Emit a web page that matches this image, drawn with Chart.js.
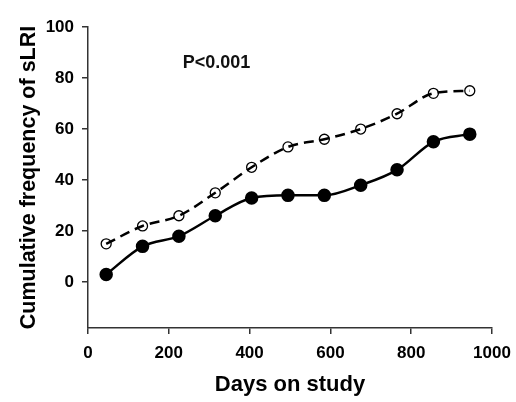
<!DOCTYPE html>
<html>
<head>
<meta charset="utf-8">
<script src="https://cdn.jsdelivr.net/npm/chart.js@4.4.0/dist/chart.umd.min.js"></script>
<style>
  body { margin: 0; background: #fff; }
  #wrap { width: 516px; height: 402px; position: relative; }
</style>
</head>
<body>
<div id="wrap"><canvas id="chart"></canvas></div>
<script>
// data
const days = [45, 135, 225, 315, 405, 495, 585, 675, 765, 855, 945];
const openSeries = [15, 22, 26, 35, 45, 53, 56, 60, 66, 74, 75];
const filledSeries = [3, 14, 18, 26, 33, 34, 34, 38, 44, 55, 58];
const yTicks = [0, 20, 40, 60, 80, 100];
const xTicks = [0, 200, 400, 600, 800, 1000];
const pLabel = 'P<0.001';

const pts = arr => days.map((d, i) => ({ x: d, y: arr[i] }));
const axisColor = '#333';
const tickFont = { family: 'Liberation Sans', size: 17, weight: 'bold' };
const titleFont = { family: 'Liberation Sans', size: 22, weight: 'bold' };

// draws the p-value note at a data position
const pNote = {
  id: 'pNote',
  afterDraw(chart) {
    const ctx = chart.ctx;
    const x = chart.scales.x.getPixelForValue(318);
    const y = chart.scales.y.getPixelForValue(86);
    ctx.save();
    ctx.font = 'bold 18px "Liberation Sans"';
    ctx.fillStyle = '#111';
    ctx.textAlign = 'center';
    ctx.textBaseline = 'middle';
    ctx.fillText(pLabel, x, y);
    ctx.restore();
  }
};

new Chart(document.getElementById('chart'), {
  type: 'line',
  data: {
    datasets: [
      {
        data: pts(openSeries),
        borderColor: '#000',
        borderWidth: 2.5,
        borderDash: [10, 6],
        pointRadius: 5,
        pointBorderWidth: 1.3,
        pointBackgroundColor: 'rgba(255,255,255,0)',
        pointBorderColor: '#000',
        cubicInterpolationMode: 'monotone'
      },
      {
        data: pts(filledSeries),
        borderColor: '#000',
        borderWidth: 2.5,
        pointRadius: 5.5,
        pointBackgroundColor: '#000',
        pointBorderColor: '#000',
        cubicInterpolationMode: 'monotone'
      }
    ]
  },
  options: {
    responsive: true,
    maintainAspectRatio: false,
    animation: false,
    layout: { padding: { left: 0, top: 27, right: 24, bottom: 0 } },
    plugins: { legend: { display: false }, tooltip: { enabled: false } },
    scales: {
      x: {
        type: 'linear',
        min: 0,
        max: 1000,
        afterFit: s => { s.height = 74; s.paddingRight = 0; },
        afterBuildTicks: s => { s.ticks = xTicks.map(v => ({ value: v })); },
        grid: { drawOnChartArea: false, drawTicks: true, tickLength: 6, color: axisColor, lineWidth: 1.5 },
        border: { display: true, color: axisColor, width: 1.5 },
        ticks: { color: '#000', font: tickFont, padding: 9, maxRotation: 0, callback: v => String(v) },
        title: {
          display: true,
          text: 'Days on study',
          color: '#000',
          font: titleFont,
          padding: { top: 0, bottom: 4 }
        }
      },
      y: {
        type: 'linear',
        min: -18,
        max: 100,
        afterFit: s => { s.width = 88; },
        afterBuildTicks: s => { s.ticks = yTicks.map(v => ({ value: v })); },
        grid: { drawOnChartArea: false, drawTicks: true, tickLength: 6, color: axisColor, lineWidth: 1.5 },
        border: { display: true, color: axisColor, width: 1.5 },
        ticks: { color: '#000', font: tickFont, padding: 8, callback: v => String(v) },
        title: {
          display: true,
          text: 'Cumulative frequency of sLRI',
          color: '#000',
          font: { family: 'Liberation Sans', size: 21.5, weight: 'bold' },
          padding: { top: 16, bottom: 0 }
        }
      }
    }
  },
  plugins: [pNote]
});
</script>
</body>
</html>
